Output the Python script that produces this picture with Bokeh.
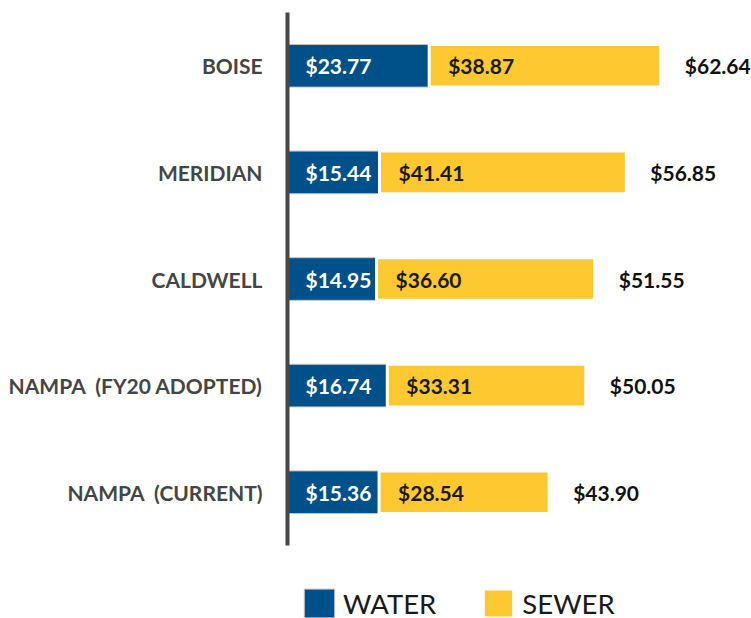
from bokeh.plotting import figure
from bokeh.models import Range1d, ColumnDataSource, Legend, LegendItem
from bokeh.core.properties import value
from bokeh.embed import file_html
from bokeh.resources import INLINE

categories = ["BOISE", "MERIDIAN", "CALDWELL", "NAMPA (FY20 ADOPTED)", "NAMPA (CURRENT)"]
water = [23.77, 15.44, 14.95, 16.74, 15.36]
sewer = [38.87, 41.41, 36.60, 33.31, 28.54]
totals = [62.64, 56.85, 51.55, 50.05, 43.90]

n = len(categories)
rows = list(range(n))
src = ColumnDataSource(dict(
    y=rows, cat=[c.replace("A (", "A\u00a0\u00a0(") for c in categories],
    water=water, sewer=sewer, total=totals,
    wlab=["$%.2f" % v for v in water],
    slab=["$%.2f" % v for v in sewer],
    tlab=["$%.2f" % v for v in totals],
))

BLUE = "#00508A"
YELLOW = "#FEC930"
FONT = value("Lato")

px_per_unit = 5.96
W, H = 751, 618
x0_px = 287
row_px = 106.6
first_px = 65.3

p = figure(width=W, height=H, output_backend="svg", toolbar_location=None,
           x_range=Range1d(-x0_px / px_per_unit, (W - x0_px) / px_per_unit),
           y_range=Range1d((H - first_px) / row_px, -first_px / row_px),
           min_border=0, outline_line_color=None)
p.xaxis.visible = False
p.yaxis.visible = False
p.grid.visible = False
p.background_fill_color = "white"
p.border_fill_color = "white"

wr = p.hbar(y="y", left=0, right="water", height=0.40, source=src,
            fill_color=BLUE, line_color="#c4c4c4", line_width=1)
sr = p.hbar(y="y", left="water", right="total", height=0.40, source=src,
            fill_color=YELLOW, line_color="white", line_width=3)

# axis line
p.segment(x0=0, y0=-0.5, x1=0, y1=n - 0.5, line_color="#4A4643", line_width=4)

p.text(x=0, y="y", text="cat", source=src, x_offset=-25, text_align="right",
       text_baseline="middle", text_font=FONT, text_font_style="bold",
       text_font_size="21px", text_color="#454545")
p.text(x=0, y="y", text="wlab", source=src, x_offset=18, text_align="left",
       text_baseline="middle", text_font=FONT, text_font_style="bold",
       text_font_size="21px", text_color="white")
p.text(x="water", y="y", text="slab", source=src, x_offset=19, text_align="left",
       text_baseline="middle", text_font=FONT, text_font_style="bold",
       text_font_size="21px", text_color="#1a1a1a")
p.text(x="total", y="y", text="tlab", source=src, x_offset=24, text_align="left",
       text_baseline="middle", text_font=FONT, text_font_style="bold",
       text_font_size="21px", text_color="#111111")

legend = Legend(items=[LegendItem(label="WATER", renderers=[wr]),
                       LegendItem(label="SEWER", renderers=[sr])],
                location=(300, -3), orientation="horizontal",
                glyph_width=38, glyph_height=36, label_height=36,
                label_standoff=5, spacing=43, padding=0, margin=0,
                border_line_color=None, background_fill_alpha=0,
                label_text_font="Lato", label_text_font_size="27.5px",
                label_text_color="#1a1a1a")
p.add_layout(legend)

open("out.html", "w").write(file_html(p, INLINE))
